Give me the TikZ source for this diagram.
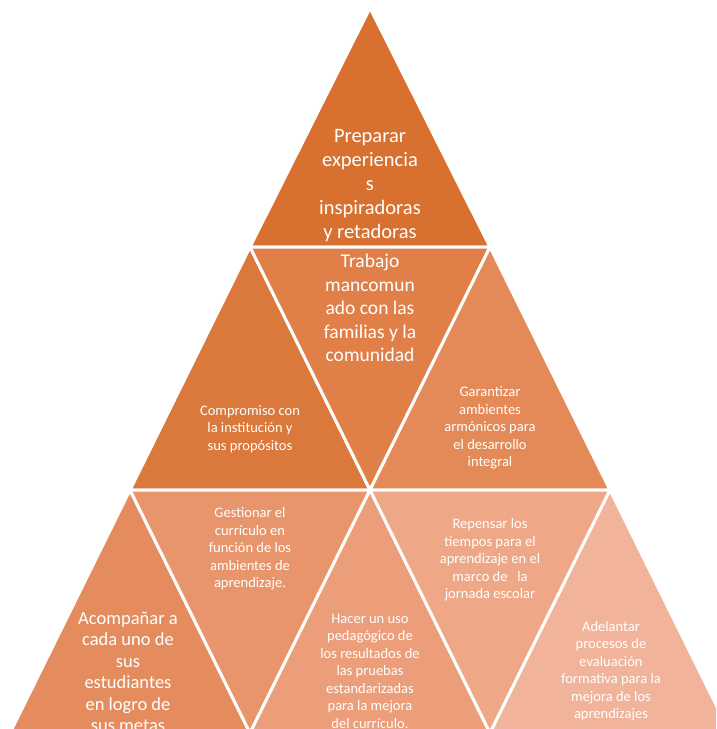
\documentclass[tikz,border=0pt]{standalone}
\usepackage{fontspec}
\setmainfont{Carlito}
\definecolor{cA}{HTML}{D8702F}
\definecolor{cB}{HTML}{DB783B}
\definecolor{cC}{HTML}{E08048}
\definecolor{cD}{HTML}{E48A58}
\definecolor{cE}{HTML}{E58C5F}
\definecolor{cF}{HTML}{E8956C}
\definecolor{cG}{HTML}{EB9E79}
\definecolor{cH}{HTML}{EEA887}
\definecolor{cI}{HTML}{F1B49B}
\tikzset{
  tri/.style={draw=white, line width=3pt, line join=miter},
  lbl/.style={text=white, align=center, inner sep=0pt},
  big/.style={lbl, font=\fontsize{20.5}{24}\selectfont},
  trab/.style={lbl, font=\fontsize{19.5}{23.5}\selectfont},
  mid/.style={lbl, font=\fontsize{18.5}{21.5}\selectfont},
  small/.style={lbl, font=\fontsize{14.5}{17.5}\selectfont},
}
\begin{document}
\begin{tikzpicture}[x=1pt,y=-1pt]
\useasboundingbox (0,0) rectangle (716,729);
\begin{scope}
\clip (0,0) rectangle (716,729);
% top
\filldraw[tri, fill=cA] (370,8) -- (250,247) -- (490,247) -- cycle;
% row 2
\filldraw[tri, fill=cB] (250,247) -- (130,490) -- (370,490) -- cycle;
\filldraw[tri, fill=cC] (250,247) -- (490,247) -- (370,490) -- cycle;
\filldraw[tri, fill=cD] (490,247) -- (370,490) -- (610,490) -- cycle;
% row 3
\filldraw[tri, fill=cE] (130,490) -- (10,733) -- (250,733) -- cycle;
\filldraw[tri, fill=cF] (130,490) -- (370,490) -- (250,733) -- cycle;
\filldraw[tri, fill=cG] (370,490) -- (250,733) -- (490,733) -- cycle;
\filldraw[tri, fill=cH] (370,490) -- (610,490) -- (490,733) -- cycle;
\filldraw[tri, fill=cI] (610,490) -- (490,733) -- (730,733) -- cycle;
\end{scope}
% labels
\node[big] (t1) at (370,186) {Preparar\\experiencia\\s\\inspiradoras\\y retadoras};
\node[trab] (t2) at (370,308) {Trabajo\\mancomun\\ado con las\\familias y la\\comunidad};
\node[small] (t3) at (250,429) {Compromiso con\\la institución y\\sus propósitos};
\node[small] (t4) at (490,428) {Garantizar\\ambientes\\armónicos para\\el desarrollo\\integral};
\node[small] (t5) at (250,549) {Gestionar el\\currículo en\\función de los\\ambientes de\\aprendizaje.};
\node[small] (t6) at (490,560) {Repensar los\\tiempos para el\\aprendizaje en el\\marco de \ \ la\\jornada escolar};
\node[mid] (t7) at (128,672) {Acompañar a\\cada uno de\\sus\\estudiantes\\en logro de\\sus metas};
\node[small] (t8) at (370,671) {Hacer un uso\\pedagógico de\\los resultados de\\las pruebas\\estandarizadas\\para la mejora\\del currículo.};
\node[small] (t9) at (611,671) {Adelantar\\procesos de\\evaluación\\formativa para la\\mejora de los\\aprendizajes};
\end{tikzpicture}
\end{document}
